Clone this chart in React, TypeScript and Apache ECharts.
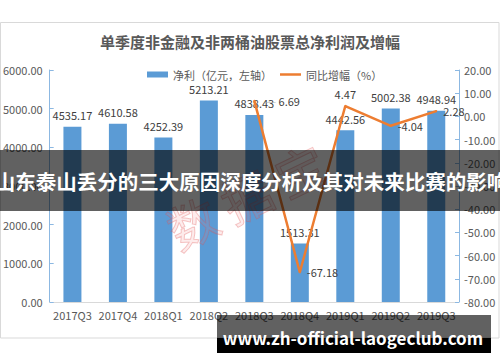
import React, { useEffect, useRef } from "react";
import * as echarts from "echarts";

const titleText = "单季度非金融及非两桶油股票总净利润及增幅";
const bannerText = "山东泰山丢分的三大原因深度分析及其对未来比赛的影响";
const urlText = "www.zh-official-laogeclub.com";
const watermarkText = "数\u2009据\u2009宝";
const barName = "净利（亿元，左轴）";
const lineName = "同比增幅（%）";
const categories = ["2017Q3", "2017Q4", "2018Q1", "2018Q2", "2018Q3", "2018Q4", "2019Q1", "2019Q2", "2019Q3"];
const profit = [4535.17, 4610.58, 4252.39, 5213.21, 4838.43, 1513.31, 4442.56, 5002.38, 4948.94];
const growth: (number | null)[] = [null, null, null, null, 6.69, -67.18, 4.47, -4.04, 2.28];
const growthLabelPos = ["right", "right", "right", "right", "right", "right", "top", "right", "right"];
const growthLeader = [false, false, false, false, true, false, false, false, false];

const FONT = "'Noto Sans CJK SC', 'Noto Sans', sans-serif";

export default function App() {
  const ref = useRef<HTMLDivElement>(null);
  useEffect(() => {
    if (!ref.current) return;
    const chart = echarts.init(ref.current, null, { renderer: "svg" });
    const axisBlue = "#8cb8e2";
    const option = {
      animation: false,
      backgroundColor: "#ffffff",
      textStyle: { fontFamily: FONT },
      title: {
        text: titleText,
        left: "center",
        top: 29,
        padding: [5, 5, 5, 19],
        textStyle: { fontSize: 15, fontWeight: "bold", color: "#595959", fontFamily: FONT },
      },
      legend: {
        left: 142,
        top: 64,
        itemWidth: 21,
        itemHeight: 6,
        itemGap: 8,
        textStyle: { fontSize: 11, color: "#595959", fontFamily: FONT },
        data: [
          { name: barName, icon: "rect" },
          { name: lineName, icon: "path://M0,0 L21,0 L21,2.5 L0,2.5 Z" },
        ],
      },
      grid: { left: 49, right: 41, top: 70, bottom: 60, containLabel: false },
      xAxis: {
        type: "category",
        data: categories,
        axisLine: { lineStyle: { color: "#d9d9d9" } },
        axisTick: { show: false },
        axisLabel: { interval: 0, color: "#595959", fontSize: 11, margin: 7, fontFamily: FONT },
      },
      yAxis: [
        {
          type: "value",
          min: 0,
          max: 6000,
          interval: 1000,
          axisLine: { show: true, lineStyle: { color: axisBlue } },
          axisTick: { show: true, inside: true, length: 4, lineStyle: { color: axisBlue } },
          splitLine: { show: false },
          axisLabel: {
            color: "#595959",
            fontSize: 11,
            margin: 7,
            fontFamily: FONT,
            formatter: (v: number) => v.toFixed(2),
          },
        },
        {
          type: "value",
          position: "right",
          min: -80,
          max: 20,
          interval: 10,
          axisLine: { show: true, lineStyle: { color: axisBlue } },
          axisTick: { show: true, inside: true, length: 4, lineStyle: { color: axisBlue } },
          splitLine: { show: false },
          axisLabel: {
            color: "#595959",
            fontSize: 11,
            margin: 5,
            fontFamily: FONT,
            formatter: (v: number) => v.toFixed(2),
          },
        },
      ],
      series: [
        {
          name: barName,
          type: "bar",
          yAxisIndex: 0,
          barWidth: 18,
          data: profit,
          itemStyle: { color: "#5b9bd5" },
          label: {
            show: true,
            position: "top",
            distance: 6,
            color: "#404040",
            fontSize: 11,
            fontFamily: FONT,
            formatter: (p: any) => Number(p.value).toFixed(2),
          },
          z: 2,
        },
        {
          name: lineName,
          type: "line",
          yAxisIndex: 1,
          symbol: "circle",
          symbolSize: 2,
          showSymbol: true,
          showAllSymbol: true,
          connectNulls: false,
          lineStyle: { color: "#ed7d31", width: 2.5 },
          itemStyle: { color: "#ed7d31" },
          label: {
            show: true,
            position: "right",
            distance: 6,
            color: "#404040",
            fontSize: 11,
            fontFamily: FONT,
            formatter: (p: any) =>
              growthLeader[p.dataIndex]
                ? "{d|——} " + Number(p.value).toFixed(2)
                : Number(p.value).toFixed(2),
            rich: { d: { color: "#b0b0b0", fontSize: 7 } },
          },
          data: growth.map((v, i) => ({
            value: v,
            label: {
              position: growthLabelPos[i],
              distance: growthLeader[i] ? 9 : 6,
            },
          })),
          z: 3,
        },
      ],
      graphic: [
        {
          type: "rect",
          z: -10,
          silent: true,
          shape: { x: 0.5, y: 22.5, width: 498.5, height: 315.5 },
          style: { fill: "none", stroke: "#d9d9d9", lineWidth: 1 },
        },
        {
          type: "text",
          z: 50,
          silent: true,
          x: 246,
          y: 195,
          rotation: 0.45,
          style: {
            text: watermarkText,
            fontSize: 50,
            fontFamily: FONT,
            fill: "rgba(240,120,120,0.14)",
            stroke: "rgba(225,80,80,0.32)",
            lineWidth: 1,
            textAlign: "center",
            textVerticalAlign: "middle",
          },
        },
        {
          type: "rect",
          z: 60,
          silent: true,
          shape: { x: 0, y: 150, width: 500, height: 61 },
          style: { fill: "rgba(0,0,0,0.62)" },
        },
        {
          type: "text",
          z: 61,
          silent: true,
          x: 251,
          y: 181,
          style: {
            text: bannerText,
            fontSize: 20.5,
            fontWeight: "bold",
            fontFamily: FONT,
            fill: "#ffffff",
            textAlign: "center",
            textVerticalAlign: "middle",
          },
        },
        {
          type: "rect",
          z: 60,
          silent: true,
          shape: { x: 217, y: 315, width: 274, height: 23 },
          style: { fill: "rgba(0,0,0,0.62)" },
        },
        {
          type: "rect",
          z: 60,
          silent: true,
          shape: { x: 217, y: 338, width: 274, height: 15 },
          style: { fill: "#000000" },
        },
        {
          type: "text",
          z: 61,
          silent: true,
          x: 353,
          y: 337,
          style: {
            text: urlText,
            fontSize: 17,
            fontWeight: "bold",
            fontFamily: FONT,
            fill: "#ffffff",
            textAlign: "center",
            textVerticalAlign: "middle",
          },
        },
      ],
    };
    chart.setOption(option as any);
    return () => chart.dispose();
  }, []);
  return (
    <div
      ref={ref}
      style={{ position: "fixed", left: 0, top: 0, width: 500, height: 362, background: "#fff" }}
    />
  );
}
